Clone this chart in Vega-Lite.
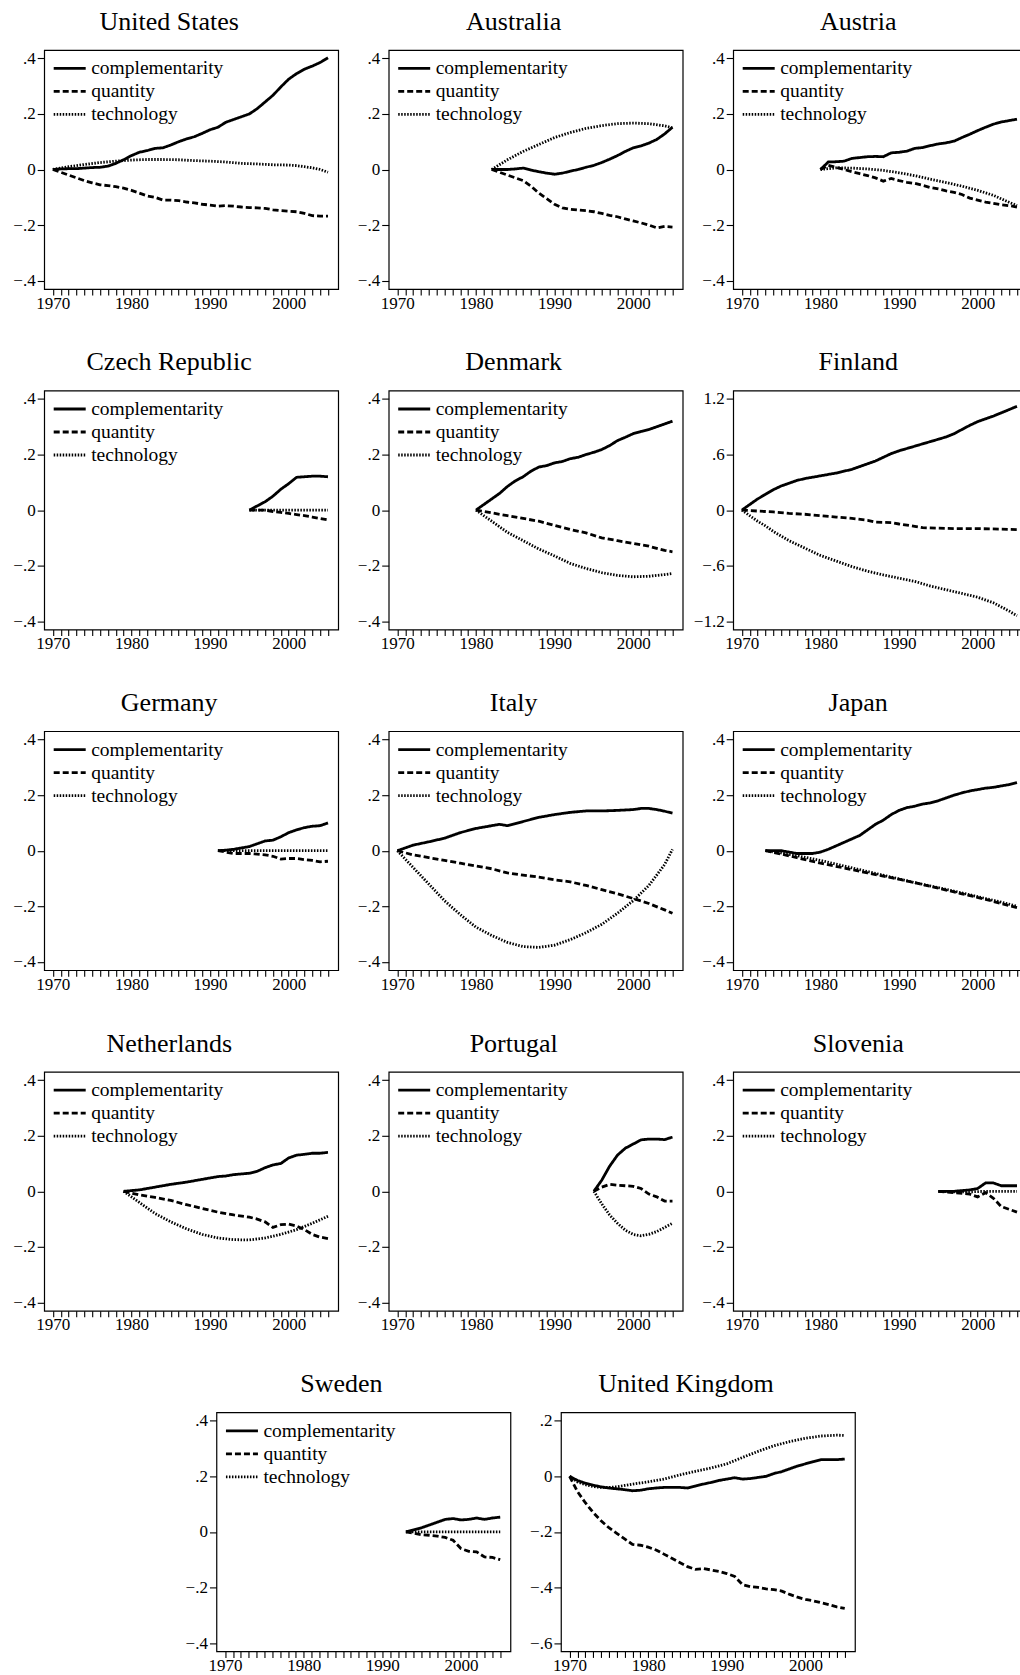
{
"$schema": "https://vega.github.io/schema/vega-lite/v6.json",
"padding": {"left": 12, "top": 8, "right": 0, "bottom": 0},
"background": "white",
"datasets": {
"us": [
{"year":1970,"complementarity":0,"quantity":0,"technology":0},
{"year":1971,"complementarity":0.002,"quantity":-0.01},
{"year":1972,"complementarity":0.003,"quantity":-0.02,"technology":0.01},
{"year":1973,"complementarity":0.003,"quantity":-0.03},
{"year":1974,"complementarity":0.005,"quantity":-0.04,"technology":0.018},
{"year":1975,"complementarity":0.007,"quantity":-0.048},
{"year":1976,"complementarity":0.008,"quantity":-0.055,"technology":0.025},
{"year":1977,"complementarity":0.012,"quantity":-0.058},
{"year":1978,"complementarity":0.022,"quantity":-0.062,"technology":0.03},
{"year":1979,"complementarity":0.035,"quantity":-0.067},
{"year":1980,"complementarity":0.05,"quantity":-0.075,"technology":0.034},
{"year":1981,"complementarity":0.062,"quantity":-0.085},
{"year":1982,"complementarity":0.068,"quantity":-0.095,"technology":0.036},
{"year":1983,"complementarity":0.076,"quantity":-0.1},
{"year":1984,"complementarity":0.078,"quantity":-0.11,"technology":0.036},
{"year":1985,"complementarity":0.088,"quantity":-0.11},
{"year":1986,"complementarity":0.1,"quantity":-0.112,"technology":0.035},
{"year":1987,"complementarity":0.11,"quantity":-0.117},
{"year":1988,"complementarity":0.118,"quantity":-0.12,"technology":0.032},
{"year":1989,"complementarity":0.13,"quantity":-0.125},
{"year":1990,"complementarity":0.143,"quantity":-0.128,"technology":0.03},
{"year":1991,"complementarity":0.152,"quantity":-0.132},
{"year":1992,"complementarity":0.17,"quantity":-0.13,"technology":0.027},
{"year":1993,"complementarity":0.18,"quantity":-0.132},
{"year":1994,"complementarity":0.19,"quantity":-0.135,"technology":0.022},
{"year":1995,"complementarity":0.2,"quantity":-0.137},
{"year":1996,"complementarity":0.219,"quantity":-0.138,"technology":0.02},
{"year":1997,"complementarity":0.243,"quantity":-0.14},
{"year":1998,"complementarity":0.267,"quantity":-0.145,"technology":0.017},
{"year":1999,"complementarity":0.297,"quantity":-0.148},
{"year":2000,"complementarity":0.325,"quantity":-0.15,"technology":0.016},
{"year":2001,"complementarity":0.345,"quantity":-0.152,"technology":0.014},
{"year":2002,"complementarity":0.361,"quantity":-0.158,"technology":0.01},
{"year":2003,"complementarity":0.372,"quantity":-0.166,"technology":0.006},
{"year":2004,"complementarity":0.385,"quantity":-0.168,"technology":0},
{"year":2005,"complementarity":0.402,"quantity":-0.168,"technology":-0.01}
],
"au": [
{"year":1982,"complementarity":0,"quantity":0,"technology":0},
{"year":1983,"complementarity":0,"quantity":-0.01},
{"year":1984,"complementarity":0,"quantity":-0.02,"technology":0.035},
{"year":1985,"complementarity":0.002,"quantity":-0.03},
{"year":1986,"complementarity":0.005,"quantity":-0.04,"technology":0.065},
{"year":1987,"complementarity":-0.002,"quantity":-0.06},
{"year":1988,"complementarity":-0.008,"quantity":-0.085,"technology":0.09},
{"year":1989,"complementarity":-0.013,"quantity":-0.105},
{"year":1990,"complementarity":-0.017,"quantity":-0.125,"technology":0.115},
{"year":1991,"complementarity":-0.013,"quantity":-0.138},
{"year":1992,"complementarity":-0.006,"quantity":-0.143,"technology":0.133},
{"year":1993,"complementarity":0,"quantity":-0.146},
{"year":1994,"complementarity":0.008,"quantity":-0.148,"technology":0.148},
{"year":1995,"complementarity":0.015,"quantity":-0.152},
{"year":1996,"complementarity":0.025,"quantity":-0.158,"technology":0.158},
{"year":1997,"complementarity":0.037,"quantity":-0.165},
{"year":1998,"complementarity":0.05,"quantity":-0.17,"technology":0.165},
{"year":1999,"complementarity":0.065,"quantity":-0.178},
{"year":2000,"complementarity":0.078,"quantity":-0.185,"technology":0.167},
{"year":2001,"complementarity":0.085,"quantity":-0.192},
{"year":2002,"complementarity":0.095,"quantity":-0.2,"technology":0.165},
{"year":2003,"complementarity":0.108,"quantity":-0.21},
{"year":2004,"complementarity":0.128,"quantity":-0.205,"technology":0.157},
{"year":2005,"complementarity":0.152,"quantity":-0.207,"technology":0.15}
],
"at": [
{"year":1980,"complementarity":0,"quantity":0,"technology":0},
{"year":1981,"complementarity":0.027,"quantity":0.015},
{"year":1982,"complementarity":0.028,"quantity":0.008,"technology":0.006},
{"year":1983,"complementarity":0.03,"quantity":0},
{"year":1984,"complementarity":0.04,"quantity":-0.008,"technology":0.005},
{"year":1985,"complementarity":0.043,"quantity":-0.015},
{"year":1986,"complementarity":0.046,"quantity":-0.022,"technology":0.002},
{"year":1987,"complementarity":0.047,"quantity":-0.03},
{"year":1988,"complementarity":0.046,"quantity":-0.042,"technology":-0.003},
{"year":1989,"complementarity":0.06,"quantity":-0.032},
{"year":1990,"complementarity":0.062,"quantity":-0.04,"technology":-0.012},
{"year":1991,"complementarity":0.066,"quantity":-0.046},
{"year":1992,"complementarity":0.076,"quantity":-0.05,"technology":-0.022},
{"year":1993,"complementarity":0.079,"quantity":-0.057},
{"year":1994,"complementarity":0.086,"quantity":-0.065,"technology":-0.035},
{"year":1995,"complementarity":0.092,"quantity":-0.07},
{"year":1996,"complementarity":0.096,"quantity":-0.077,"technology":-0.047},
{"year":1997,"complementarity":0.102,"quantity":-0.082},
{"year":1998,"complementarity":0.115,"quantity":-0.09,"technology":-0.06},
{"year":1999,"complementarity":0.127,"quantity":-0.103},
{"year":2000,"complementarity":0.14,"quantity":-0.11,"technology":-0.075},
{"year":2001,"complementarity":0.152,"quantity":-0.117},
{"year":2002,"complementarity":0.163,"quantity":-0.122,"technology":-0.093},
{"year":2003,"complementarity":0.171,"quantity":-0.127},
{"year":2004,"complementarity":0.176,"quantity":-0.13,"technology":-0.118},
{"year":2005,"complementarity":0.181,"quantity":-0.135,"technology":-0.13}
],
"cz": [
{"year":1995,"complementarity":0,"quantity":0,"technology":0},
{"year":1996,"complementarity":0.015,"quantity":0,"technology":0},
{"year":1997,"complementarity":0.03,"quantity":0},
{"year":1998,"complementarity":0.05,"quantity":-0.005},
{"year":1999,"complementarity":0.075,"quantity":-0.008},
{"year":2000,"complementarity":0.095,"quantity":-0.012},
{"year":2001,"complementarity":0.118,"quantity":-0.016},
{"year":2002,"complementarity":0.12,"quantity":-0.02},
{"year":2003,"complementarity":0.122,"quantity":-0.025},
{"year":2004,"complementarity":0.122,"quantity":-0.03},
{"year":2005,"complementarity":0.12,"quantity":-0.035,"technology":0}
],
"dk": [
{"year":1980,"complementarity":0,"quantity":0,"technology":0},
{"year":1981,"complementarity":0.02},
{"year":1982,"complementarity":0.04,"quantity":-0.01,"technology":-0.04},
{"year":1983,"complementarity":0.06},
{"year":1984,"complementarity":0.085,"quantity":-0.02,"technology":-0.08},
{"year":1985,"complementarity":0.105},
{"year":1986,"complementarity":0.12,"quantity":-0.03,"technology":-0.11},
{"year":1987,"complementarity":0.14},
{"year":1988,"complementarity":0.155,"quantity":-0.04,"technology":-0.14},
{"year":1989,"complementarity":0.16},
{"year":1990,"complementarity":0.17,"quantity":-0.055,"technology":-0.165},
{"year":1991,"complementarity":0.175},
{"year":1992,"complementarity":0.185,"quantity":-0.07,"technology":-0.192},
{"year":1993,"complementarity":0.19},
{"year":1994,"complementarity":0.2,"quantity":-0.082,"technology":-0.21},
{"year":1995,"complementarity":0.208},
{"year":1996,"complementarity":0.218,"quantity":-0.1,"technology":-0.225},
{"year":1997,"complementarity":0.232},
{"year":1998,"complementarity":0.25,"quantity":-0.11,"technology":-0.235},
{"year":1999,"complementarity":0.262},
{"year":2000,"complementarity":0.275,"quantity":-0.12,"technology":-0.24},
{"year":2001,"complementarity":0.283},
{"year":2002,"complementarity":0.29,"quantity":-0.13,"technology":-0.238},
{"year":2003,"complementarity":0.3},
{"year":2004,"complementarity":0.31,"quantity":-0.145,"technology":-0.232},
{"year":2005,"complementarity":0.32,"quantity":-0.15,"technology":-0.228}
],
"fi": [
{"year":1970,"complementarity":0,"quantity":0,"technology":0},
{"year":1971,"complementarity":0.06,"technology":-0.06},
{"year":1972,"complementarity":0.12,"quantity":-0.01,"technology":-0.12},
{"year":1973,"complementarity":0.17,"technology":-0.17},
{"year":1974,"complementarity":0.22,"quantity":-0.02,"technology":-0.23},
{"year":1975,"complementarity":0.26,"technology":-0.28},
{"year":1976,"complementarity":0.29,"quantity":-0.035,"technology":-0.33},
{"year":1977,"complementarity":0.32,"technology":-0.37},
{"year":1978,"complementarity":0.34,"quantity":-0.045,"technology":-0.41},
{"year":1979,"complementarity":0.355,"technology":-0.45},
{"year":1980,"complementarity":0.37,"quantity":-0.06,"technology":-0.49},
{"year":1981,"complementarity":0.385},
{"year":1982,"complementarity":0.4,"quantity":-0.075,"technology":-0.55},
{"year":1983,"complementarity":0.42},
{"year":1984,"complementarity":0.44,"quantity":-0.09,"technology":-0.61},
{"year":1985,"complementarity":0.47},
{"year":1986,"complementarity":0.5,"quantity":-0.11,"technology":-0.66},
{"year":1987,"complementarity":0.53,"quantity":-0.13},
{"year":1988,"complementarity":0.57,"technology":-0.7},
{"year":1989,"complementarity":0.61,"quantity":-0.135},
{"year":1990,"complementarity":0.64,"quantity":-0.15,"technology":-0.735},
{"year":1991,"complementarity":0.665},
{"year":1992,"complementarity":0.69,"quantity":-0.175,"technology":-0.77},
{"year":1993,"complementarity":0.715,"quantity":-0.19},
{"year":1994,"complementarity":0.74,"technology":-0.82},
{"year":1995,"complementarity":0.765,"quantity":-0.195},
{"year":1996,"complementarity":0.79,"technology":-0.86},
{"year":1997,"complementarity":0.825,"quantity":-0.2},
{"year":1998,"complementarity":0.87,"technology":-0.9},
{"year":1999,"complementarity":0.915},
{"year":2000,"complementarity":0.955,"quantity":-0.2,"technology":-0.94},
{"year":2001,"complementarity":0.985},
{"year":2002,"complementarity":1.015,"technology":-1.0},
{"year":2003,"complementarity":1.05,"quantity":-0.205},
{"year":2004,"complementarity":1.085,"technology":-1.09},
{"year":2005,"complementarity":1.12,"quantity":-0.21,"technology":-1.14}
],
"de": [
{"year":1991,"complementarity":0,"quantity":0,"technology":0},
{"year":1992,"complementarity":0.002,"quantity":-0.005},
{"year":1993,"complementarity":0.005,"quantity":-0.01},
{"year":1994,"complementarity":0.01,"quantity":-0.01},
{"year":1995,"complementarity":0.015,"quantity":-0.01},
{"year":1996,"complementarity":0.025,"quantity":-0.012},
{"year":1997,"complementarity":0.035,"quantity":-0.015},
{"year":1998,"complementarity":0.038,"quantity":-0.02},
{"year":1999,"complementarity":0.05,"quantity":-0.03},
{"year":2000,"complementarity":0.065,"quantity":-0.028},
{"year":2001,"complementarity":0.075,"quantity":-0.028},
{"year":2002,"complementarity":0.083,"quantity":-0.032},
{"year":2003,"complementarity":0.088,"quantity":-0.035},
{"year":2004,"complementarity":0.09,"quantity":-0.04},
{"year":2005,"complementarity":0.1,"quantity":-0.038,"technology":0}
],
"it": [
{"year":1970,"complementarity":0,"quantity":0,"technology":0},
{"year":1972,"complementarity":0.02,"quantity":-0.015,"technology":-0.06},
{"year":1974,"complementarity":0.032,"quantity":-0.025,"technology":-0.12},
{"year":1976,"complementarity":0.045,"quantity":-0.035,"technology":-0.18},
{"year":1978,"complementarity":0.065,"quantity":-0.045,"technology":-0.23},
{"year":1980,"complementarity":0.08,"quantity":-0.055,"technology":-0.275},
{"year":1982,"complementarity":0.09,"quantity":-0.065,"technology":-0.305},
{"year":1983,"complementarity":0.095},
{"year":1984,"complementarity":0.09,"quantity":-0.08,"technology":-0.33},
{"year":1986,"complementarity":0.105,"quantity":-0.088,"technology":-0.345},
{"year":1988,"complementarity":0.12,"quantity":-0.095,"technology":-0.348},
{"year":1990,"complementarity":0.13,"quantity":-0.105,"technology":-0.34},
{"year":1992,"complementarity":0.138,"quantity":-0.112,"technology":-0.32},
{"year":1994,"complementarity":0.143,"quantity":-0.125,"technology":-0.295},
{"year":1996,"complementarity":0.143,"quantity":-0.14,"technology":-0.265},
{"year":1998,"complementarity":0.145,"quantity":-0.155,"technology":-0.225},
{"year":2000,"complementarity":0.148,"quantity":-0.172,"technology":-0.18},
{"year":2001,"complementarity":0.152},
{"year":2002,"complementarity":0.152,"quantity":-0.19,"technology":-0.125},
{"year":2003,"complementarity":0.148},
{"year":2004,"complementarity":0.142,"quantity":-0.213,"technology":-0.05},
{"year":2005,"complementarity":0.135,"quantity":-0.225,"technology":0.005}
],
"jp": [
{"year":1973,"complementarity":0,"quantity":0,"technology":0},
{"year":1975,"complementarity":0,"quantity":-0.012,"technology":-0.008},
{"year":1976,"complementarity":-0.005},
{"year":1977,"complementarity":-0.01,"quantity":-0.025,"technology":-0.018},
{"year":1979,"complementarity":-0.01},
{"year":1980,"complementarity":-0.005,"quantity":-0.045,"technology":-0.035},
{"year":1981,"complementarity":0.005},
{"year":1983,"complementarity":0.03,"quantity":-0.062,"technology":-0.055},
{"year":1985,"complementarity":0.055},
{"year":1986,"complementarity":0.075,"quantity":-0.08,"technology":-0.075},
{"year":1987,"complementarity":0.095},
{"year":1988,"complementarity":0.11},
{"year":1989,"complementarity":0.13,"quantity":-0.097,"technology":-0.095},
{"year":1990,"complementarity":0.145},
{"year":1991,"complementarity":0.155},
{"year":1992,"complementarity":0.16,"quantity":-0.115,"technology":-0.115},
{"year":1993,"complementarity":0.168},
{"year":1994,"complementarity":0.172},
{"year":1995,"complementarity":0.18,"quantity":-0.135,"technology":-0.133},
{"year":1996,"complementarity":0.19},
{"year":1997,"complementarity":0.2},
{"year":1998,"complementarity":0.208,"quantity":-0.155,"technology":-0.152},
{"year":1999,"complementarity":0.215},
{"year":2000,"complementarity":0.22},
{"year":2001,"complementarity":0.225,"quantity":-0.175,"technology":-0.172},
{"year":2002,"complementarity":0.228},
{"year":2003,"complementarity":0.233,"quantity":-0.19,"technology":-0.185},
{"year":2004,"complementarity":0.238},
{"year":2005,"complementarity":0.245,"quantity":-0.205,"technology":-0.2}
],
"nl": [
{"year":1979,"complementarity":0,"quantity":0,"technology":0},
{"year":1981,"complementarity":0.005,"quantity":-0.013,"technology":-0.04},
{"year":1983,"complementarity":0.015,"quantity":-0.022,"technology":-0.08},
{"year":1985,"complementarity":0.025,"quantity":-0.033,"technology":-0.11},
{"year":1987,"complementarity":0.033,"quantity":-0.048,"technology":-0.135},
{"year":1989,"complementarity":0.043,"quantity":-0.062,"technology":-0.155},
{"year":1991,"complementarity":0.053,"quantity":-0.075,"technology":-0.168},
{"year":1992,"complementarity":0.055},
{"year":1993,"complementarity":0.06,"quantity":-0.085,"technology":-0.174},
{"year":1995,"complementarity":0.065,"quantity":-0.093,"technology":-0.175},
{"year":1996,"complementarity":0.072,"quantity":-0.1},
{"year":1997,"complementarity":0.085,"quantity":-0.11,"technology":-0.168},
{"year":1998,"complementarity":0.095,"quantity":-0.13},
{"year":1999,"complementarity":0.1,"quantity":-0.12,"technology":-0.155},
{"year":2000,"complementarity":0.12,"quantity":-0.118},
{"year":2001,"complementarity":0.13,"quantity":-0.125,"technology":-0.138},
{"year":2002,"complementarity":0.133,"quantity":-0.138},
{"year":2003,"complementarity":0.137,"quantity":-0.155,"technology":-0.115},
{"year":2004,"complementarity":0.137,"quantity":-0.165},
{"year":2005,"complementarity":0.14,"quantity":-0.17,"technology":-0.09}
],
"pt": [
{"year":1995,"complementarity":0,"quantity":0,"technology":0},
{"year":1996,"complementarity":0.04,"quantity":0.015,"technology":-0.045},
{"year":1997,"complementarity":0.09,"quantity":0.025,"technology":-0.085},
{"year":1998,"complementarity":0.13,"quantity":0.022,"technology":-0.115},
{"year":1999,"complementarity":0.155,"quantity":0.02,"technology":-0.14},
{"year":2000,"complementarity":0.17,"quantity":0.018,"technology":-0.155},
{"year":2001,"complementarity":0.185,"quantity":0.01,"technology":-0.16},
{"year":2002,"complementarity":0.188,"quantity":-0.01,"technology":-0.155},
{"year":2003,"complementarity":0.188,"quantity":-0.02,"technology":-0.145},
{"year":2004,"complementarity":0.186,"quantity":-0.035,"technology":-0.13},
{"year":2005,"complementarity":0.195,"quantity":-0.035,"technology":-0.115}
],
"si": [
{"year":1995,"complementarity":0,"quantity":0,"technology":0},
{"year":1997,"complementarity":0,"quantity":-0.005,"technology":-0.002},
{"year":1999,"complementarity":0.005,"quantity":-0.01,"technology":-0.002},
{"year":2000,"complementarity":0.01,"quantity":-0.02},
{"year":2001,"complementarity":0.03,"quantity":-0.005,"technology":0},
{"year":2002,"complementarity":0.03,"quantity":-0.025},
{"year":2003,"complementarity":0.02,"quantity":-0.055,"technology":0},
{"year":2004,"complementarity":0.02,"quantity":-0.065},
{"year":2005,"complementarity":0.02,"quantity":-0.075,"technology":0}
],
"se": [
{"year":1993,"complementarity":0,"quantity":0,"technology":0},
{"year":1994,"complementarity":0.007,"quantity":-0.005},
{"year":1995,"complementarity":0.015,"quantity":-0.01},
{"year":1996,"complementarity":0.025,"quantity":-0.012},
{"year":1997,"complementarity":0.035,"quantity":-0.015},
{"year":1998,"complementarity":0.045,"quantity":-0.02},
{"year":1999,"complementarity":0.048,"quantity":-0.03},
{"year":2000,"complementarity":0.043,"quantity":-0.06},
{"year":2001,"complementarity":0.045,"quantity":-0.07},
{"year":2002,"complementarity":0.05,"quantity":-0.072},
{"year":2003,"complementarity":0.045,"quantity":-0.09},
{"year":2004,"complementarity":0.05,"quantity":-0.092},
{"year":2005,"complementarity":0.053,"quantity":-0.1,"technology":0}
],
"uk": [
{"year":1970,"complementarity":0,"quantity":0,"technology":0},
{"year":1971,"complementarity":-0.015,"quantity":-0.055,"technology":-0.02},
{"year":1972,"complementarity":-0.025,"quantity":-0.095,"technology":-0.03},
{"year":1973,"complementarity":-0.032,"quantity":-0.13,"technology":-0.037},
{"year":1974,"complementarity":-0.038,"quantity":-0.16,"technology":-0.04},
{"year":1975,"complementarity":-0.042,"quantity":-0.185,"technology":-0.04},
{"year":1976,"complementarity":-0.045,"quantity":-0.205,"technology":-0.038},
{"year":1977,"complementarity":-0.048,"quantity":-0.225,"technology":-0.033},
{"year":1978,"complementarity":-0.052,"quantity":-0.245,"technology":-0.028},
{"year":1979,"complementarity":-0.05,"quantity":-0.248},
{"year":1980,"complementarity":-0.045,"quantity":-0.255,"technology":-0.02},
{"year":1981,"complementarity":-0.042,"quantity":-0.265},
{"year":1982,"complementarity":-0.04,"quantity":-0.28,"technology":-0.01},
{"year":1983,"complementarity":-0.04,"quantity":-0.295},
{"year":1984,"complementarity":-0.04,"quantity":-0.31,"technology":0.005},
{"year":1985,"complementarity":-0.042,"quantity":-0.325},
{"year":1986,"complementarity":-0.035,"quantity":-0.335,"technology":0.018},
{"year":1987,"complementarity":-0.028,"quantity":-0.332},
{"year":1988,"complementarity":-0.022,"quantity":-0.337,"technology":0.03},
{"year":1989,"complementarity":-0.015,"quantity":-0.342},
{"year":1990,"complementarity":-0.01,"quantity":-0.35,"technology":0.045},
{"year":1991,"complementarity":-0.005,"quantity":-0.36},
{"year":1992,"complementarity":-0.01,"quantity":-0.39,"technology":0.068},
{"year":1993,"complementarity":-0.008,"quantity":-0.397},
{"year":1994,"complementarity":-0.004,"quantity":-0.4,"technology":0.09},
{"year":1995,"complementarity":0,"quantity":-0.405},
{"year":1996,"complementarity":0.01,"quantity":-0.408,"technology":0.11},
{"year":1997,"complementarity":0.017,"quantity":-0.413},
{"year":1998,"complementarity":0.027,"quantity":-0.425,"technology":0.125},
{"year":1999,"complementarity":0.037,"quantity":-0.435},
{"year":2000,"complementarity":0.045,"quantity":-0.443,"technology":0.137},
{"year":2001,"complementarity":0.053,"quantity":-0.448},
{"year":2002,"complementarity":0.06,"quantity":-0.455,"technology":0.145},
{"year":2003,"complementarity":0.06,"quantity":-0.462},
{"year":2004,"complementarity":0.06,"quantity":-0.47,"technology":0.148},
{"year":2005,"complementarity":0.062,"quantity":-0.475,"technology":0.147}
]
},
"vconcat": [
{"hconcat": [
{"title":"United States","width":294,"height":239,"data":{"name":"us"},"transform":[{"fold":["complementarity","quantity","technology"],"as":["series","value"]},{"filter":"isValid(datum.value)"}],"mark":{"type":"line","color":"black","strokeWidth":2.8},"encoding":{"x":{"field":"year","type":"quantitative","scale":{"domain":[1968.9,2006.3],"nice":false,"zero":false},"axis":{"values":[1970,1971,1972,1973,1974,1975,1976,1977,1978,1979,1980,1981,1982,1983,1984,1985,1986,1987,1988,1989,1990,1991,1992,1993,1994,1995,1996,1997,1998,1999,2000,2001,2002,2003,2004,2005],"format":"d","labelExpr":"datum.value % 10 === 0 ? datum.label : ''","encode":{"ticks":{"update":{"y":{"value":-4},"y2":{"signal":"datum.value % 10 === 0 ? 6 : 0"}}}}}},"y":{"field":"value","type":"quantitative","scale":{"domain":[-0.43,0.43],"nice":false,"zero":false},"axis":{"values":[-0.4,-0.2,0,0.2,0.4],"labelExpr":"datum.value === 0 ? '0' : replace(format(datum.value, '.1f'), '0.', '.')"}},"strokeDash":{"field":"series","type":"nominal","scale":{"domain":["complementarity","quantity","technology"],"range":[[1,0],[6,3],[1.5,1.5]]},"legend":{"title":null,"orient":"none","legendX":8,"legendY":7}}}},
{"title":"Australia","width":294,"height":239,"data":{"name":"au"},"transform":[{"fold":["complementarity","quantity","technology"],"as":["series","value"]},{"filter":"isValid(datum.value)"}],"mark":{"type":"line","color":"black","strokeWidth":2.8},"encoding":{"x":{"field":"year","type":"quantitative","scale":{"domain":[1968.9,2006.3],"nice":false,"zero":false},"axis":{"values":[1970,1971,1972,1973,1974,1975,1976,1977,1978,1979,1980,1981,1982,1983,1984,1985,1986,1987,1988,1989,1990,1991,1992,1993,1994,1995,1996,1997,1998,1999,2000,2001,2002,2003,2004,2005],"format":"d","labelExpr":"datum.value % 10 === 0 ? datum.label : ''","encode":{"ticks":{"update":{"y":{"value":-4},"y2":{"signal":"datum.value % 10 === 0 ? 6 : 0"}}}}}},"y":{"field":"value","type":"quantitative","scale":{"domain":[-0.43,0.43],"nice":false,"zero":false},"axis":{"values":[-0.4,-0.2,0,0.2,0.4],"labelExpr":"datum.value === 0 ? '0' : replace(format(datum.value, '.1f'), '0.', '.')"}},"strokeDash":{"field":"series","type":"nominal","scale":{"domain":["complementarity","quantity","technology"],"range":[[1,0],[6,3],[1.5,1.5]]},"legend":{"title":null,"orient":"none","legendX":8,"legendY":7}}}},
{"title":"Austria","width":294,"height":239,"data":{"name":"at"},"transform":[{"fold":["complementarity","quantity","technology"],"as":["series","value"]},{"filter":"isValid(datum.value)"}],"mark":{"type":"line","color":"black","strokeWidth":2.8},"encoding":{"x":{"field":"year","type":"quantitative","scale":{"domain":[1968.9,2006.3],"nice":false,"zero":false},"axis":{"values":[1970,1971,1972,1973,1974,1975,1976,1977,1978,1979,1980,1981,1982,1983,1984,1985,1986,1987,1988,1989,1990,1991,1992,1993,1994,1995,1996,1997,1998,1999,2000,2001,2002,2003,2004,2005],"format":"d","labelExpr":"datum.value % 10 === 0 ? datum.label : ''","encode":{"ticks":{"update":{"y":{"value":-4},"y2":{"signal":"datum.value % 10 === 0 ? 6 : 0"}}}}}},"y":{"field":"value","type":"quantitative","scale":{"domain":[-0.43,0.43],"nice":false,"zero":false},"axis":{"values":[-0.4,-0.2,0,0.2,0.4],"labelExpr":"datum.value === 0 ? '0' : replace(format(datum.value, '.1f'), '0.', '.')"}},"strokeDash":{"field":"series","type":"nominal","scale":{"domain":["complementarity","quantity","technology"],"range":[[1,0],[6,3],[1.5,1.5]]},"legend":{"title":null,"orient":"none","legendX":8,"legendY":7}}}}
], "spacing": 50.5, "bounds": "flush",
"resolve": {"scale": {"x":"independent","y":"independent","strokeDash":"independent"}, "axis": {"x":"independent","y":"independent"}, "legend": {"strokeDash":"independent"}}},
{"hconcat": [
{"title":"Czech Republic","width":294,"height":239,"data":{"name":"cz"},"transform":[{"fold":["complementarity","quantity","technology"],"as":["series","value"]},{"filter":"isValid(datum.value)"}],"mark":{"type":"line","color":"black","strokeWidth":2.8},"encoding":{"x":{"field":"year","type":"quantitative","scale":{"domain":[1968.9,2006.3],"nice":false,"zero":false},"axis":{"values":[1970,1971,1972,1973,1974,1975,1976,1977,1978,1979,1980,1981,1982,1983,1984,1985,1986,1987,1988,1989,1990,1991,1992,1993,1994,1995,1996,1997,1998,1999,2000,2001,2002,2003,2004,2005],"format":"d","labelExpr":"datum.value % 10 === 0 ? datum.label : ''","encode":{"ticks":{"update":{"y":{"value":-4},"y2":{"signal":"datum.value % 10 === 0 ? 6 : 0"}}}}}},"y":{"field":"value","type":"quantitative","scale":{"domain":[-0.43,0.43],"nice":false,"zero":false},"axis":{"values":[-0.4,-0.2,0,0.2,0.4],"labelExpr":"datum.value === 0 ? '0' : replace(format(datum.value, '.1f'), '0.', '.')"}},"strokeDash":{"field":"series","type":"nominal","scale":{"domain":["complementarity","quantity","technology"],"range":[[1,0],[6,3],[1.5,1.5]]},"legend":{"title":null,"orient":"none","legendX":8,"legendY":7}}}},
{"title":"Denmark","width":294,"height":239,"data":{"name":"dk"},"transform":[{"fold":["complementarity","quantity","technology"],"as":["series","value"]},{"filter":"isValid(datum.value)"}],"mark":{"type":"line","color":"black","strokeWidth":2.8},"encoding":{"x":{"field":"year","type":"quantitative","scale":{"domain":[1968.9,2006.3],"nice":false,"zero":false},"axis":{"values":[1970,1971,1972,1973,1974,1975,1976,1977,1978,1979,1980,1981,1982,1983,1984,1985,1986,1987,1988,1989,1990,1991,1992,1993,1994,1995,1996,1997,1998,1999,2000,2001,2002,2003,2004,2005],"format":"d","labelExpr":"datum.value % 10 === 0 ? datum.label : ''","encode":{"ticks":{"update":{"y":{"value":-4},"y2":{"signal":"datum.value % 10 === 0 ? 6 : 0"}}}}}},"y":{"field":"value","type":"quantitative","scale":{"domain":[-0.43,0.43],"nice":false,"zero":false},"axis":{"values":[-0.4,-0.2,0,0.2,0.4],"labelExpr":"datum.value === 0 ? '0' : replace(format(datum.value, '.1f'), '0.', '.')"}},"strokeDash":{"field":"series","type":"nominal","scale":{"domain":["complementarity","quantity","technology"],"range":[[1,0],[6,3],[1.5,1.5]]},"legend":{"title":null,"orient":"none","legendX":8,"legendY":7}}}},
{"title":"Finland","width":294,"height":239,"data":{"name":"fi"},"transform":[{"fold":["complementarity","quantity","technology"],"as":["series","value"]},{"filter":"isValid(datum.value)"}],"mark":{"type":"line","color":"black","strokeWidth":2.8},"encoding":{"x":{"field":"year","type":"quantitative","scale":{"domain":[1968.9,2006.3],"nice":false,"zero":false},"axis":{"values":[1970,1971,1972,1973,1974,1975,1976,1977,1978,1979,1980,1981,1982,1983,1984,1985,1986,1987,1988,1989,1990,1991,1992,1993,1994,1995,1996,1997,1998,1999,2000,2001,2002,2003,2004,2005],"format":"d","labelExpr":"datum.value % 10 === 0 ? datum.label : ''","encode":{"ticks":{"update":{"y":{"value":-4},"y2":{"signal":"datum.value % 10 === 0 ? 6 : 0"}}}}}},"y":{"field":"value","type":"quantitative","scale":{"domain":[-1.29,1.29],"nice":false,"zero":false},"axis":{"values":[-1.2,-0.6,0,0.6,1.2],"labelExpr":"datum.value === 0 ? '0' : replace(format(datum.value, '.1f'), '0.', '.')"}},"strokeDash":{"field":"series","type":"nominal","scale":{"domain":["complementarity","quantity","technology"],"range":[[1,0],[6,3],[1.5,1.5]]},"legend":null}}}
], "spacing": 50.5, "bounds": "flush",
"resolve": {"scale": {"x":"independent","y":"independent","strokeDash":"independent"}, "axis": {"x":"independent","y":"independent"}, "legend": {"strokeDash":"independent"}}},
{"hconcat": [
{"title":"Germany","width":294,"height":239,"data":{"name":"de"},"transform":[{"fold":["complementarity","quantity","technology"],"as":["series","value"]},{"filter":"isValid(datum.value)"}],"mark":{"type":"line","color":"black","strokeWidth":2.8},"encoding":{"x":{"field":"year","type":"quantitative","scale":{"domain":[1968.9,2006.3],"nice":false,"zero":false},"axis":{"values":[1970,1971,1972,1973,1974,1975,1976,1977,1978,1979,1980,1981,1982,1983,1984,1985,1986,1987,1988,1989,1990,1991,1992,1993,1994,1995,1996,1997,1998,1999,2000,2001,2002,2003,2004,2005],"format":"d","labelExpr":"datum.value % 10 === 0 ? datum.label : ''","encode":{"ticks":{"update":{"y":{"value":-4},"y2":{"signal":"datum.value % 10 === 0 ? 6 : 0"}}}}}},"y":{"field":"value","type":"quantitative","scale":{"domain":[-0.43,0.43],"nice":false,"zero":false},"axis":{"values":[-0.4,-0.2,0,0.2,0.4],"labelExpr":"datum.value === 0 ? '0' : replace(format(datum.value, '.1f'), '0.', '.')"}},"strokeDash":{"field":"series","type":"nominal","scale":{"domain":["complementarity","quantity","technology"],"range":[[1,0],[6,3],[1.5,1.5]]},"legend":{"title":null,"orient":"none","legendX":8,"legendY":7}}}},
{"title":"Italy","width":294,"height":239,"data":{"name":"it"},"transform":[{"fold":["complementarity","quantity","technology"],"as":["series","value"]},{"filter":"isValid(datum.value)"}],"mark":{"type":"line","color":"black","strokeWidth":2.8},"encoding":{"x":{"field":"year","type":"quantitative","scale":{"domain":[1968.9,2006.3],"nice":false,"zero":false},"axis":{"values":[1970,1971,1972,1973,1974,1975,1976,1977,1978,1979,1980,1981,1982,1983,1984,1985,1986,1987,1988,1989,1990,1991,1992,1993,1994,1995,1996,1997,1998,1999,2000,2001,2002,2003,2004,2005],"format":"d","labelExpr":"datum.value % 10 === 0 ? datum.label : ''","encode":{"ticks":{"update":{"y":{"value":-4},"y2":{"signal":"datum.value % 10 === 0 ? 6 : 0"}}}}}},"y":{"field":"value","type":"quantitative","scale":{"domain":[-0.43,0.43],"nice":false,"zero":false},"axis":{"values":[-0.4,-0.2,0,0.2,0.4],"labelExpr":"datum.value === 0 ? '0' : replace(format(datum.value, '.1f'), '0.', '.')"}},"strokeDash":{"field":"series","type":"nominal","scale":{"domain":["complementarity","quantity","technology"],"range":[[1,0],[6,3],[1.5,1.5]]},"legend":{"title":null,"orient":"none","legendX":8,"legendY":7}}}},
{"title":"Japan","width":294,"height":239,"data":{"name":"jp"},"transform":[{"fold":["complementarity","quantity","technology"],"as":["series","value"]},{"filter":"isValid(datum.value)"}],"mark":{"type":"line","color":"black","strokeWidth":2.8},"encoding":{"x":{"field":"year","type":"quantitative","scale":{"domain":[1968.9,2006.3],"nice":false,"zero":false},"axis":{"values":[1970,1971,1972,1973,1974,1975,1976,1977,1978,1979,1980,1981,1982,1983,1984,1985,1986,1987,1988,1989,1990,1991,1992,1993,1994,1995,1996,1997,1998,1999,2000,2001,2002,2003,2004,2005],"format":"d","labelExpr":"datum.value % 10 === 0 ? datum.label : ''","encode":{"ticks":{"update":{"y":{"value":-4},"y2":{"signal":"datum.value % 10 === 0 ? 6 : 0"}}}}}},"y":{"field":"value","type":"quantitative","scale":{"domain":[-0.43,0.43],"nice":false,"zero":false},"axis":{"values":[-0.4,-0.2,0,0.2,0.4],"labelExpr":"datum.value === 0 ? '0' : replace(format(datum.value, '.1f'), '0.', '.')"}},"strokeDash":{"field":"series","type":"nominal","scale":{"domain":["complementarity","quantity","technology"],"range":[[1,0],[6,3],[1.5,1.5]]},"legend":{"title":null,"orient":"none","legendX":8,"legendY":7}}}}
], "spacing": 50.5, "bounds": "flush",
"resolve": {"scale": {"x":"independent","y":"independent","strokeDash":"independent"}, "axis": {"x":"independent","y":"independent"}, "legend": {"strokeDash":"independent"}}},
{"hconcat": [
{"title":"Netherlands","width":294,"height":239,"data":{"name":"nl"},"transform":[{"fold":["complementarity","quantity","technology"],"as":["series","value"]},{"filter":"isValid(datum.value)"}],"mark":{"type":"line","color":"black","strokeWidth":2.8},"encoding":{"x":{"field":"year","type":"quantitative","scale":{"domain":[1968.9,2006.3],"nice":false,"zero":false},"axis":{"values":[1970,1971,1972,1973,1974,1975,1976,1977,1978,1979,1980,1981,1982,1983,1984,1985,1986,1987,1988,1989,1990,1991,1992,1993,1994,1995,1996,1997,1998,1999,2000,2001,2002,2003,2004,2005],"format":"d","labelExpr":"datum.value % 10 === 0 ? datum.label : ''","encode":{"ticks":{"update":{"y":{"value":-4},"y2":{"signal":"datum.value % 10 === 0 ? 6 : 0"}}}}}},"y":{"field":"value","type":"quantitative","scale":{"domain":[-0.43,0.43],"nice":false,"zero":false},"axis":{"values":[-0.4,-0.2,0,0.2,0.4],"labelExpr":"datum.value === 0 ? '0' : replace(format(datum.value, '.1f'), '0.', '.')"}},"strokeDash":{"field":"series","type":"nominal","scale":{"domain":["complementarity","quantity","technology"],"range":[[1,0],[6,3],[1.5,1.5]]},"legend":{"title":null,"orient":"none","legendX":8,"legendY":7}}}},
{"title":"Portugal","width":294,"height":239,"data":{"name":"pt"},"transform":[{"fold":["complementarity","quantity","technology"],"as":["series","value"]},{"filter":"isValid(datum.value)"}],"mark":{"type":"line","color":"black","strokeWidth":2.8},"encoding":{"x":{"field":"year","type":"quantitative","scale":{"domain":[1968.9,2006.3],"nice":false,"zero":false},"axis":{"values":[1970,1971,1972,1973,1974,1975,1976,1977,1978,1979,1980,1981,1982,1983,1984,1985,1986,1987,1988,1989,1990,1991,1992,1993,1994,1995,1996,1997,1998,1999,2000,2001,2002,2003,2004,2005],"format":"d","labelExpr":"datum.value % 10 === 0 ? datum.label : ''","encode":{"ticks":{"update":{"y":{"value":-4},"y2":{"signal":"datum.value % 10 === 0 ? 6 : 0"}}}}}},"y":{"field":"value","type":"quantitative","scale":{"domain":[-0.43,0.43],"nice":false,"zero":false},"axis":{"values":[-0.4,-0.2,0,0.2,0.4],"labelExpr":"datum.value === 0 ? '0' : replace(format(datum.value, '.1f'), '0.', '.')"}},"strokeDash":{"field":"series","type":"nominal","scale":{"domain":["complementarity","quantity","technology"],"range":[[1,0],[6,3],[1.5,1.5]]},"legend":{"title":null,"orient":"none","legendX":8,"legendY":7}}}},
{"title":"Slovenia","width":294,"height":239,"data":{"name":"si"},"transform":[{"fold":["complementarity","quantity","technology"],"as":["series","value"]},{"filter":"isValid(datum.value)"}],"mark":{"type":"line","color":"black","strokeWidth":2.8},"encoding":{"x":{"field":"year","type":"quantitative","scale":{"domain":[1968.9,2006.3],"nice":false,"zero":false},"axis":{"values":[1970,1971,1972,1973,1974,1975,1976,1977,1978,1979,1980,1981,1982,1983,1984,1985,1986,1987,1988,1989,1990,1991,1992,1993,1994,1995,1996,1997,1998,1999,2000,2001,2002,2003,2004,2005],"format":"d","labelExpr":"datum.value % 10 === 0 ? datum.label : ''","encode":{"ticks":{"update":{"y":{"value":-4},"y2":{"signal":"datum.value % 10 === 0 ? 6 : 0"}}}}}},"y":{"field":"value","type":"quantitative","scale":{"domain":[-0.43,0.43],"nice":false,"zero":false},"axis":{"values":[-0.4,-0.2,0,0.2,0.4],"labelExpr":"datum.value === 0 ? '0' : replace(format(datum.value, '.1f'), '0.', '.')"}},"strokeDash":{"field":"series","type":"nominal","scale":{"domain":["complementarity","quantity","technology"],"range":[[1,0],[6,3],[1.5,1.5]]},"legend":{"title":null,"orient":"none","legendX":8,"legendY":7}}}}
], "spacing": 50.5, "bounds": "flush",
"resolve": {"scale": {"x":"independent","y":"independent","strokeDash":"independent"}, "axis": {"x":"independent","y":"independent"}, "legend": {"strokeDash":"independent"}}},
{"hconcat": [
{"title":"Sweden","width":294,"height":239,"data":{"name":"se"},"transform":[{"fold":["complementarity","quantity","technology"],"as":["series","value"]},{"filter":"isValid(datum.value)"}],"mark":{"type":"line","color":"black","strokeWidth":2.8},"encoding":{"x":{"field":"year","type":"quantitative","scale":{"domain":[1968.9,2006.3],"nice":false,"zero":false},"axis":{"values":[1970,1971,1972,1973,1974,1975,1976,1977,1978,1979,1980,1981,1982,1983,1984,1985,1986,1987,1988,1989,1990,1991,1992,1993,1994,1995,1996,1997,1998,1999,2000,2001,2002,2003,2004,2005],"format":"d","labelExpr":"datum.value % 10 === 0 ? datum.label : ''","encode":{"ticks":{"update":{"y":{"value":-4},"y2":{"signal":"datum.value % 10 === 0 ? 6 : 0"}}}}}},"y":{"field":"value","type":"quantitative","scale":{"domain":[-0.43,0.43],"nice":false,"zero":false},"axis":{"values":[-0.4,-0.2,0,0.2,0.4],"labelExpr":"datum.value === 0 ? '0' : replace(format(datum.value, '.1f'), '0.', '.')"}},"strokeDash":{"field":"series","type":"nominal","scale":{"domain":["complementarity","quantity","technology"],"range":[[1,0],[6,3],[1.5,1.5]]},"legend":{"title":null,"orient":"none","legendX":8,"legendY":7}}}},
{"title":"United Kingdom","width":294,"height":239,"data":{"name":"uk"},"transform":[{"fold":["complementarity","quantity","technology"],"as":["series","value"]},{"filter":"isValid(datum.value)"}],"mark":{"type":"line","color":"black","strokeWidth":2.8},"encoding":{"x":{"field":"year","type":"quantitative","scale":{"domain":[1968.9,2006.3],"nice":false,"zero":false},"axis":{"values":[1970,1971,1972,1973,1974,1975,1976,1977,1978,1979,1980,1981,1982,1983,1984,1985,1986,1987,1988,1989,1990,1991,1992,1993,1994,1995,1996,1997,1998,1999,2000,2001,2002,2003,2004,2005],"format":"d","labelExpr":"datum.value % 10 === 0 ? datum.label : ''","encode":{"ticks":{"update":{"y":{"value":-4},"y2":{"signal":"datum.value % 10 === 0 ? 6 : 0"}}}}}},"y":{"field":"value","type":"quantitative","scale":{"domain":[-0.63,0.23],"nice":false,"zero":false},"axis":{"values":[-0.6,-0.4,-0.2,0,0.2],"labelExpr":"datum.value === 0 ? '0' : replace(format(datum.value, '.1f'), '0.', '.')"}},"strokeDash":{"field":"series","type":"nominal","scale":{"domain":["complementarity","quantity","technology"],"range":[[1,0],[6,3],[1.5,1.5]]},"legend":null}}}
], "spacing": 50.5, "bounds": "flush",
"resolve": {"scale": {"x":"independent","y":"independent","strokeDash":"independent"}, "axis": {"x":"independent","y":"independent"}, "legend": {"strokeDash":"independent"}}}
],
"spacing": 36.6,
"center": true,
"bounds": "full",
"resolve": {"scale": {"x":"independent","y":"independent","strokeDash":"independent"}, "axis": {"x":"independent","y":"independent"}, "legend": {"strokeDash":"independent"}},
"config": {
"font": "Liberation Serif",
"view": {"stroke": "black", "strokeWidth": 1.2},
"title": {"font": "Liberation Serif", "fontSize": 26, "fontWeight": "normal", "color": "black", "anchor": "middle", "dx": -22, "baseline": "alphabetic", "offset": 14.5},
"axis": {"title": null, "grid": false, "domain": false, "labelFont": "Liberation Serif", "labelFontSize": 17, "labelColor": "black", "tickColor": "black", "tickWidth": 1.1, "labelOverlap": false, "labelFlush": false, "labelBound": false},
"axisX": {"tickSize": 6, "labelPadding": 0, "labelFont": "Liberation Serif", "labelFontSize": 17},
"axisY": {"tickSize": 7, "labelPadding": 2, "labelFont": "Liberation Serif", "labelFontSize": 17},
"legend": {"symbolType": "stroke", "symbolSize": 1024, "symbolStrokeWidth": 2.8, "symbolStrokeColor": "black", "clipHeight": 22.8, "rowPadding": 0, "labelOffset": 4, "labelFont": "Liberation Serif", "labelFontSize": 19.5, "labelColor": "black", "padding": 0, "labelLimit": 300}
}
}
